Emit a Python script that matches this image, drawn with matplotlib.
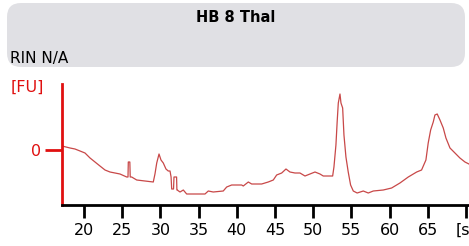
import matplotlib
matplotlib.use("Agg")
import matplotlib.pyplot as plt
from matplotlib.patches import FancyBboxPatch
from matplotlib.transforms import IdentityTransform

title = "HB 8 Thal"
rin_text = "RIN N/A"
time_s = [17.12, 18.17, 18.82, 19.48, 20.13, 20.79, 21.44, 22.09, 22.75, 23.40,
          24.06, 24.71, 25.59, 25.76, 25.80, 26.00, 26.05, 26.24, 26.90, 27.98,
          29.07, 29.29, 29.52, 29.82, 30.08, 30.38, 30.73, 31.03, 31.26, 31.40,
          31.48, 31.72, 31.78, 32.12, 32.16, 32.20, 32.57, 33.00, 33.44, 35.84,
          36.27, 36.92, 38.23, 38.68, 39.33, 40.64, 40.85, 41.51, 41.95, 43.26,
          44.12, 44.78, 45.22, 45.88, 46.44, 46.96, 47.62, 48.27, 48.93, 49.58,
          50.24, 50.89, 51.32, 52.55, 52.72, 52.98, 53.14, 53.29, 53.51, 53.64,
          53.86, 54.03, 54.29, 54.59, 54.90, 55.25, 55.76, 56.56, 57.21, 57.87,
          59.18, 60.27, 61.36, 62.45, 63.55, 64.19, 64.76, 65.06, 65.38, 65.72,
          65.94, 66.24, 66.60, 67.03, 67.38, 67.91, 68.56, 69.21, 69.87, 70.39]
fu = [4, 2, 1, -1, -3, -8, -12, -16, -20, -22,
      -23, -24, -27, -27, -12, -12, -27, -27, -30, -31,
      -32, -24, -13, -4, -10, -13, -19, -21, -21, -27,
      -39, -39, -27, -27, -40, -40, -42, -40, -44, -44,
      -41, -42, -41, -37, -35, -35, -36, -32, -34, -34,
      -32, -30, -25, -23, -19, -22, -23, -23, -26, -24,
      -22, -24, -26, -26, -17, 5, 28, 47, 56, 47,
      42, 15, -7, -22, -35, -41, -43, -41, -43, -41,
      -40, -38, -33, -27, -22, -20, -10, 7, 20, 28,
      35, 36, 30, 22, 12, 2, -3, -8, -12, -14]
xticks = [20, 25, 30, 35, 40, 45, 50, 55, 60, 65, 70]
xticklabels = ["20", "25", "30", "35", "40", "45", "50", "55", "60", "65", "[s]"]
yticks = [0]
yticklabels = ["0"]

W, H = 469, 246
fig = plt.figure(figsize=(W / 100, H / 100), dpi=100)
fig.patch.set_facecolor("white")

box = FancyBboxPatch((7, H - 67), 458, 64, boxstyle="round,pad=0,rounding_size=14",
                     transform=IdentityTransform(), facecolor="#e0e0e4", edgecolor="none",
                     zorder=0)
fig.patches.append(box)
fig.text(236 / W, 1 - 18 / H, title, ha="center", va="center", fontsize=10.5,
         fontweight="bold", family="DejaVu Sans")
fig.text(10 / W, 1 - 58 / H, rin_text, ha="left", va="center", fontsize=11,
         family="DejaVu Sans")

ax = fig.add_axes([62 / W, 1 - 205 / H, (W - 62) / W, (205 - 84) / H])
ax.set_facecolor("none")
ax.plot(time_s, fu, color="#c84848", lw=0.9)
ax.set_xlim(17.12, 70.4)
ax.set_ylim(-55, 66)
for s in ["top", "right"]:
    ax.spines[s].set_visible(False)
ax.spines["left"].set_color("#e01010")
ax.spines["left"].set_linewidth(2)
ax.spines["bottom"].set_color("black")
ax.spines["bottom"].set_linewidth(2)
ax.set_xticks(xticks)
ax.set_xticklabels(xticklabels)
ax.set_yticks(yticks)
ax.set_yticklabels(yticklabels)
ax.tick_params(axis="x", direction="out", length=9, width=2, color="black",
               labelsize=11.5, pad=4)
ax.tick_params(axis="y", direction="out", length=12, width=2, color="#e01010",
               labelcolor="#e01010", labelsize=11.5, pad=3)
fig.text(27 / W, 1 - 87 / H, "[FU]", ha="center", va="center", fontsize=11.5,
         color="#e01010", family="DejaVu Sans")

fig.savefig("out.png", dpi=100)
